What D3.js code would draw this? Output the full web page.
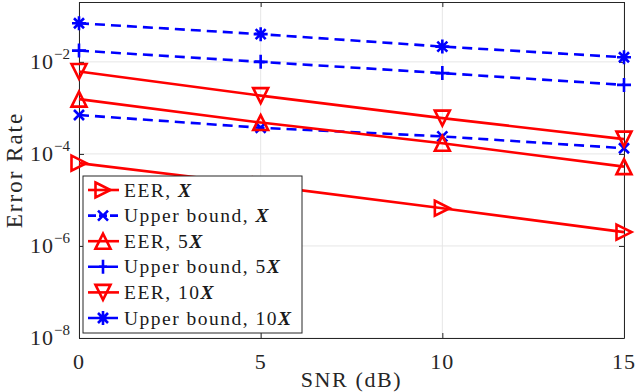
<!DOCTYPE html>
<html>
<head>
<meta charset="utf-8">
<script src="https://cdn.jsdelivr.net/npm/d3@7"></script>
<style>
  body { margin: 0; background: #fff; }
  text { font-family: "Liberation Serif", "DejaVu Serif", serif; }
</style>
</head>
<body>
<svg id="chart" width="636" height="392"></svg>
<script>
"use strict"

const snr = [0, 5, 10, 15]

// values
const eerX = [6.3e-5, 2.1e-5, 6.6e-6, 2.0e-6]
const boundX = [7.0e-4, 3.7e-4, 2.4e-4, 1.33e-4]
const eer5X = [1.55e-3, 4.8e-4, 1.7e-4, 5.3e-5]
const bound5X = [1.76e-2, 1.0e-2, 5.7e-3, 3.16e-3]
const eer10X = [6.2e-3, 1.85e-3, 6.0e-4, 2.1e-4]
const bound10X = [6.9e-2, 4.0e-2, 2.15e-2, 1.26e-2]

const xTicks = [0, 5, 10, 15]
const yTickExps = [-8, -6, -4, -2]

const series = [
    {name: "EER, ", mult: "", values: eerX, color: "#ff0000", dash: null, marker: "tri-right"},
    {name: "Upper bound, ", mult: "", values: boundX, color: "#0000ff", dash: "10,6", marker: "x"},
    {name: "EER, ", mult: "5", values: eer5X, color: "#ff0000", dash: null, marker: "tri-up"},
    {name: "Upper bound, ", mult: "5", values: bound5X, color: "#0000ff", dash: "10,6", marker: "plus"},
    {name: "EER, ", mult: "10", values: eer10X, color: "#ff0000", dash: null, marker: "tri-down"},
    {name: "Upper bound, ", mult: "10", values: bound10X, color: "#0000ff", dash: "10,6", marker: "star"}
]

const margin = {left: 79, right: 12, top: 2, bottom: 54}
const width = 636 - margin.left - margin.right,
    height = 392 - margin.top - margin.bottom

const svg = d3.select("#chart")
const g = svg.append("g").attr("transform", "translate(" + margin.left + "," + margin.top + ")")

let x = d3.scaleLinear().domain([0, 15]).range([0, width])
let y = d3.scaleLog().domain([1e-8, 0.2]).range([height, 0])

const textColor = "#262626"
const axisColor = "#262626"
const lw = 2.6

// grid
g.append("g").selectAll("line").data(xTicks).enter().append("line")
    .attr("x1", d => x(d)).attr("x2", d => x(d))
    .attr("y1", 0).attr("y2", height)
    .attr("stroke", "#e6e6e6").attr("stroke-width", 1)
g.append("g").selectAll("line").data(yTickExps).enter().append("line")
    .attr("x1", 0).attr("x2", width)
    .attr("y1", d => y(Math.pow(10, d))).attr("y2", d => y(Math.pow(10, d)))
    .attr("stroke", "#e6e6e6").attr("stroke-width", 1)

// axes (box with ticks on all sides)
const tickLen = 5
let xAxisB = d3.axisBottom(x).tickValues(xTicks).tickSizeInner(-tickLen).tickSizeOuter(0).tickFormat("")
let xAxisT = d3.axisTop(x).tickValues(xTicks).tickSizeInner(-tickLen).tickSizeOuter(0).tickFormat("")
let yAxisL = d3.axisLeft(y).tickValues(yTickExps.map(e => Math.pow(10, e))).tickSizeInner(-tickLen).tickSizeOuter(0).tickFormat("")
let yAxisR = d3.axisRight(y).tickValues(yTickExps.map(e => Math.pow(10, e))).tickSizeInner(-tickLen).tickSizeOuter(0).tickFormat("")

g.append("g").attr("transform", "translate(0," + height + ")").call(xAxisB)
g.append("g").call(xAxisT)
g.append("g").call(yAxisL)
g.append("g").attr("transform", "translate(" + width + ",0)").call(yAxisR)
g.selectAll(".domain, .tick line").attr("stroke", axisColor).attr("stroke-width", 1)

// tick labels
g.append("g").selectAll("text").data(xTicks).enter().append("text")
    .attr("x", d => x(d)).attr("y", height + 31)
    .attr("text-anchor", "middle")
    .attr("font-size", 22).attr("letter-spacing", 1).attr("fill", textColor)
    .text(d => d)

let yLab = g.append("g").selectAll("text").data(yTickExps).enter().append("text")
    .attr("x", -9).attr("y", d => y(Math.pow(10, d)) + 7)
    .attr("text-anchor", "end")
    .attr("font-size", 22).attr("fill", textColor)
yLab.append("tspan").attr("letter-spacing", 1).text("10")
yLab.append("tspan").attr("font-size", 15).attr("dy", -10).text(d => "\u2212" + Math.abs(d))

// axis titles
svg.append("text")
    .attr("x", margin.left + width / 2).attr("y", 387)
    .attr("text-anchor", "middle").attr("font-size", 22).attr("letter-spacing", 1.6).attr("fill", textColor)
    .text("SNR (dB)")
svg.append("text")
    .attr("transform", "translate(22," + (margin.top + height / 2) + ") rotate(-90)")
    .attr("text-anchor", "middle").attr("font-size", 23).attr("letter-spacing", 2).attr("fill", textColor)
    .text("Error Rate")

// markers
function drawMarker(sel, type, color) {
    const s = 7.5
    sel.attr("fill", "none").attr("stroke", color).attr("stroke-width", lw)
    if (type === "tri-right") {
        sel.append("path").attr("d", "M" + (-s) + "," + (-s) + "L" + s + ",0L" + (-s) + "," + s + "Z")
    } else if (type === "tri-up") {
        sel.append("path").attr("d", "M" + (-s) + "," + s + "L0," + (-s) + "L" + s + "," + s + "Z")
    } else if (type === "tri-down") {
        sel.append("path").attr("d", "M" + (-s) + "," + (-s) + "L0," + s + "L" + s + "," + (-s) + "Z")
    } else if (type === "x") {
        const a = 5
        sel.append("path").attr("d", "M" + (-a) + "," + (-a) + "L" + a + "," + a + "M" + (-a) + "," + a + "L" + a + "," + (-a))
    } else if (type === "plus") {
        const a = 7
        sel.append("path").attr("d", "M" + (-a) + ",0L" + a + ",0M0," + (-a) + "L0," + a)
    } else if (type === "star") {
        const a = 7, b = 5
        sel.append("path").attr("d", "M" + (-a) + ",0L" + a + ",0M0," + (-a) + "L0," + a +
            "M" + (-b) + "," + (-b) + "L" + b + "," + b + "M" + (-b) + "," + b + "L" + b + "," + (-b))
    }
}

let line = d3.line().x((d, i) => x(snr[i])).y(d => y(d))

let plot = g.append("g")
series.forEach(s => {
    plot.append("path")
        .attr("d", line(s.values))
        .attr("fill", "none")
        .attr("stroke", s.color)
        .attr("stroke-width", lw)
        .attr("stroke-dasharray", s.dash)
    s.values.forEach((v, i) => {
        let m = plot.append("g").attr("transform", "translate(" + x(snr[i]) + "," + y(v) + ")")
        drawMarker(m, s.marker, s.color)
    })
})

// legend
const legX = 4, legY = 174, legW = 219, legH = 157, rowH = 25.6
let leg = g.append("g").attr("transform", "translate(" + legX + "," + legY + ")")
leg.append("rect").attr("width", legW).attr("height", legH)
    .attr("fill", "#fff").attr("stroke", "#262626").attr("stroke-width", 1)
series.forEach((s, i) => {
    let row = leg.append("g").attr("transform", "translate(0," + (14 + i * rowH) + ")")
    row.append("line").attr("x1", 5).attr("x2", 36).attr("y1", 0).attr("y2", 0)
        .attr("stroke", s.color).attr("stroke-width", lw)
        .attr("stroke-dasharray", s.dash ? "8,3" : null)
    drawMarker(row.append("g").attr("transform", "translate(20,0)"), s.marker, s.color)
    let t = row.append("text").attr("x", 41).attr("y", 6.5)
        .attr("font-size", 19.5).attr("letter-spacing", 1.5).attr("fill", "#1a1a1a")
    t.append("tspan").text(s.name + s.mult)
    t.append("tspan").attr("font-weight", "bold").attr("font-style", "italic").text("X")
})
</script>
</body>
</html>
